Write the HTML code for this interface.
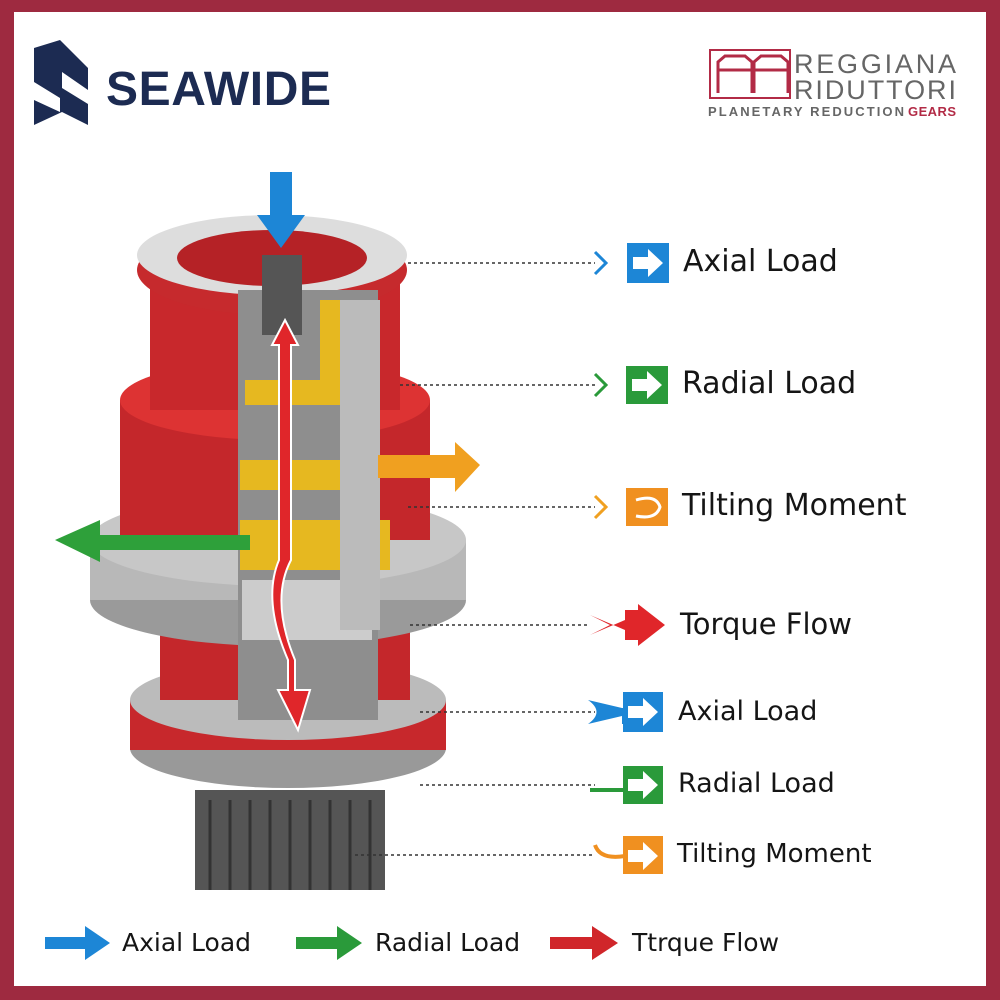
<!DOCTYPE html><html><head><style>
body{margin:0;width:1000px;height:1000px;background:#9e2a40;font-family:"DejaVu Sans","Liberation Sans",sans-serif;}
.in{position:absolute;left:14px;top:12px;width:972px;height:974px;background:#fff;}
.t{position:absolute;color:#151515;white-space:nowrap}
</style></head><body><div class="in"></div>
<svg width="1000" height="1000" style="position:absolute;left:0;top:0">
<!-- Seawide logo -->
<path d="M34 48 L60 40 L88 68 L88 90 L62 72 L62 88 L88 104 L88 125 L62 112 L34 125 L34 100 L60 112 L60 98 L34 82 Z" fill="#1c2b52"/>
<text x="106" y="105" font-family="Liberation Sans" font-weight="bold" font-size="48" fill="#1c2b52" textLength="225">SEAWIDE</text>
<!-- Reggiana logo -->
<rect x="710" y="50" width="80" height="48" fill="#fff" stroke="#b22b46" stroke-width="2"/>
<path d="M718 93 V62 L725 56 H745 L752 62 V93 M718 70 H752 M754 93 V62 L761 56 H781 L788 62 V93 M754 70 H788" fill="none" stroke="#b22b46" stroke-width="3"/>
<text x="794" y="73" font-family="Liberation Sans" font-size="27" fill="#666" textLength="162">REGGIANA</text>
<text x="794" y="99" font-family="Liberation Sans" font-size="27" fill="#666" textLength="162">RIDUTTORI</text>
<text x="708" y="116" font-family="Liberation Sans" font-size="13" font-weight="bold" fill="#666" textLength="196">PLANETARY REDUCTION</text>
<text x="908" y="116" font-family="Liberation Sans" font-size="13" font-weight="bold" fill="#b22b46" textLength="48">GEARS</text>
<!-- gearbox -->
<rect x="195" y="790" width="190" height="100" fill="#555"/>
<g stroke="#333" stroke-width="3"><path d="M210 800V890M230 800V890M250 800V890M270 800V890M290 800V890M310 800V890M330 800V890M350 800V890M370 800V890"/></g>
<ellipse cx="288" cy="748" rx="158" ry="40" fill="#999"/>
<rect x="130" y="700" width="316" height="50" fill="#c7282c"/>
<ellipse cx="288" cy="700" rx="158" ry="40" fill="#bbb"/>
<rect x="160" y="620" width="250" height="80" fill="#c4272b"/>
<ellipse cx="278" cy="600" rx="188" ry="46" fill="#9a9a9a"/>
<rect x="90" y="540" width="376" height="60" fill="#b8b8b8"/>
<ellipse cx="278" cy="540" rx="188" ry="46" fill="#c7c7c7"/>
<rect x="120" y="400" width="310" height="140" fill="#c4272b"/>
<ellipse cx="275" cy="400" rx="155" ry="40" fill="#d33"/>
<rect x="150" y="270" width="250" height="140" fill="#c8282c"/>
<ellipse cx="272" cy="270" rx="135" ry="45" fill="#c62a2d"/>
<ellipse cx="272" cy="255" rx="135" ry="40" fill="#ddd"/>
<ellipse cx="272" cy="258" rx="95" ry="28" fill="#b52226"/>
<rect x="238" y="290" width="140" height="430" fill="#8e8e8e"/>
<g fill="#e6b820"><rect x="245" y="380" width="115" height="25"/><rect x="240" y="460" width="125" height="30"/><rect x="240" y="520" width="150" height="50"/><rect x="320" y="300" width="30" height="100"/></g>
<rect x="242" y="580" width="130" height="60" fill="#ccc"/>
<rect x="262" y="255" width="40" height="80" fill="#555"/>
<rect x="340" y="300" width="40" height="330" fill="#bbb"/>
<!-- arrows on gearbox -->
<path d="M270 172H292V215H305L281 248L257 215H270Z" fill="#1d86d6"/>
<path d="M285 320L298 345H291V560Q270 600 295 660V690H310L298 730L278 690H288V660Q262 600 279 560V345H272Z" fill="#e0262a" stroke="#fff" stroke-width="2"/>
<path d="M378 455H455V442L480 465L455 492V478H378Z" fill="#f0a020"/>
<path d="M250 535H100V520L55 540L100 562V550H250Z" fill="#2ea03a"/>
<!-- dotted lines -->
<g stroke="#333" stroke-width="1.5" stroke-dasharray="3,3">
<path d="M408 263H595M400 385H595M408 507H595M410 625H590M420 712H595M420 785H595M355 855H595"/></g>
<g fill="none" stroke-width="3">
<path d="M595 252L606 263L595 274" stroke="#1d86d6"/>
<path d="M595 374L606 385L595 396" stroke="#2a9a3a"/>
<path d="M595 496L606 507L595 518" stroke="#f0a020"/>
</g>
<g fill="#fff">
<rect x="627" y="243" width="42" height="40" fill="#1d86d6"/><path d="M633 257H648V249L663 263L648 277V269H633Z"/>
<rect x="626" y="366" width="42" height="38" fill="#2a9a3a"/><path d="M632 379H647V371L662 385L647 399V391H632Z"/>
<rect x="626" y="488" width="42" height="38" fill="#f09020"/><path d="M636 500Q656 494 660 507Q656 520 636 516" fill="none" stroke="#fff" stroke-width="3"/>
</g>
<path d="M590 615L610 625L590 635L625 620V610H638V604L665 625L638 646V640H625V630Z" fill="#e0262a"/>
<path d="M588 700Q605 712 588 724L622 716V724H640V708H622Z" fill="#1d86d6"/><rect x="623" y="692" width="40" height="40" fill="#1d86d6"/><path d="M628 706H643V698L658 712L643 726V718H628Z" fill="#fff"/>
<path d="M590 790H625" stroke="#2a9a3a" stroke-width="4"/><rect x="623" y="766" width="40" height="38" fill="#2a9a3a"/><path d="M628 779H643V771L658 785L643 799V791H628Z" fill="#fff"/>
<path d="M595 845Q600 860 625 856" stroke="#f09020" stroke-width="4" fill="none"/><rect x="623" y="836" width="40" height="38" fill="#f09020"/><path d="M628 850H643V842L658 856L643 870V862H628Z" fill="#fff"/>
<!-- bottom legend -->
<path d="M45 937H85V926L110 943L85 960V949H45Z" fill="#1d86d6"/>
<path d="M296 937H337V926L362 943L337 960V949H296Z" fill="#2a9a3a"/>
<path d="M550 937H592V926L618 943L592 960V949H550Z" fill="#d0262a"/>
</svg>
<div class="t" style="left:683px;top:244px;font-size:30px">Axial Load</div>
<div class="t" style="left:682px;top:366px;font-size:30px">Radial Load</div>
<div class="t" style="left:682px;top:488px;font-size:30px">Tilting Moment</div>
<div class="t" style="left:680px;top:607px;font-size:29px">Torque Flow</div>
<div class="t" style="left:678px;top:696px;font-size:27px">Axial Load</div>
<div class="t" style="left:678px;top:768px;font-size:27px">Radial Load</div>
<div class="t" style="left:677px;top:839px;font-size:26px">Tilting Moment</div>
<div class="t" style="left:122px;top:928px;font-size:25px">Axial Load</div>
<div class="t" style="left:375px;top:928px;font-size:25px">Radial Load</div>
<div class="t" style="left:632px;top:928px;font-size:25px">Ttrque Flow</div>
</body></html>
